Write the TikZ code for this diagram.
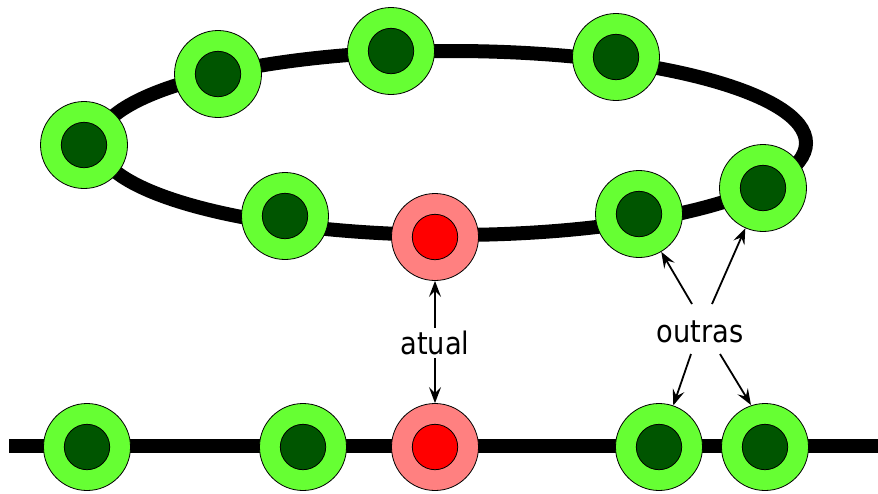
\documentclass[tikz,border=0pt]{standalone}
\usepackage{fontspec}
\setmainfont{DejaVu Sans}
\newfontfamily\lblfont[FakeStretch=0.88]{DejaVu Sans}
\usetikzlibrary{arrows.meta}
\definecolor{lg}{HTML}{66FF33}
\definecolor{dg}{HTML}{005500}
\definecolor{pk}{HTML}{FF8080}
\definecolor{rd}{HTML}{FF0000}
\tikzset{
  x=1pt,y=-1pt,
  track/.style={line width=14pt,black},
  gnode/.style={circle,draw=black,line width=0.8pt,fill=lg,minimum size=87pt,inner sep=0pt,
    path picture={\filldraw[fill=dg,draw=black,line width=0.8pt] (path picture bounding box.center) circle (22.7pt);}},
  rnode/.style={circle,draw=black,line width=0.8pt,fill=pk,minimum size=87pt,inner sep=0pt,
    path picture={\filldraw[fill=rd,draw=black,line width=0.8pt] (path picture bounding box.center) circle (22.7pt);}},
  lbl/.style={font=\lblfont\fontsize{31}{36}\selectfont,inner sep=3pt},
  arr/.style={-{Stealth[length=16pt,width=12pt,inset=6pt]},line width=1.8pt},
}
\begin{document}
\begin{tikzpicture}
\useasboundingbox (0,0) rectangle (878,493);
% tracks
\draw[track] (452,143) ellipse [x radius=354, y radius=92];
\coordinate (ls) at (9,446);
\coordinate (le) at (878,446);
\draw[track] (ls) -- (le);
% ring nodes
\node[gnode] (r1) at (84,145) {};
\node[gnode] (r2) at (218,74) {};
\node[gnode] (r3) at (391,51) {};
\node[gnode] (r4) at (616,57) {};
\node[gnode] (r5) at (285,216) {};
\node[rnode] (r6) at (435,237) {};
\node[gnode] (r7) at (639,214) {};
\node[gnode] (r8) at (763,188) {};
% line nodes
\node[gnode] (b1) at (87,447) {};
\node[gnode] (b2) at (303,447) {};
\node[rnode] (b3) at (435,447) {};
\node[gnode] (b4) at (659,447) {};
\node[gnode] (b5) at (765,447) {};
% labels
\node[lbl] (atual) at (435,343) {atual};
\node[lbl] (outras) at (700,332) {outras};
% arrow start points
\coordinate (o1) at (692,304);
\coordinate (o2) at (712,304);
\coordinate (o3) at (691,354);
\coordinate (o4) at (720,354);
\coordinate (t4) at (751,405);
% arrows
\draw[arr] (atual) -- (r6);
\draw[arr] (atual) -- (b3);
\draw[arr] (o1) -- (r7);
\draw[arr] (o2) -- (r8);
\draw[arr] (o3) -- (b4);
\draw[arr] (o4) -- (t4);
\end{tikzpicture}
\end{document}
